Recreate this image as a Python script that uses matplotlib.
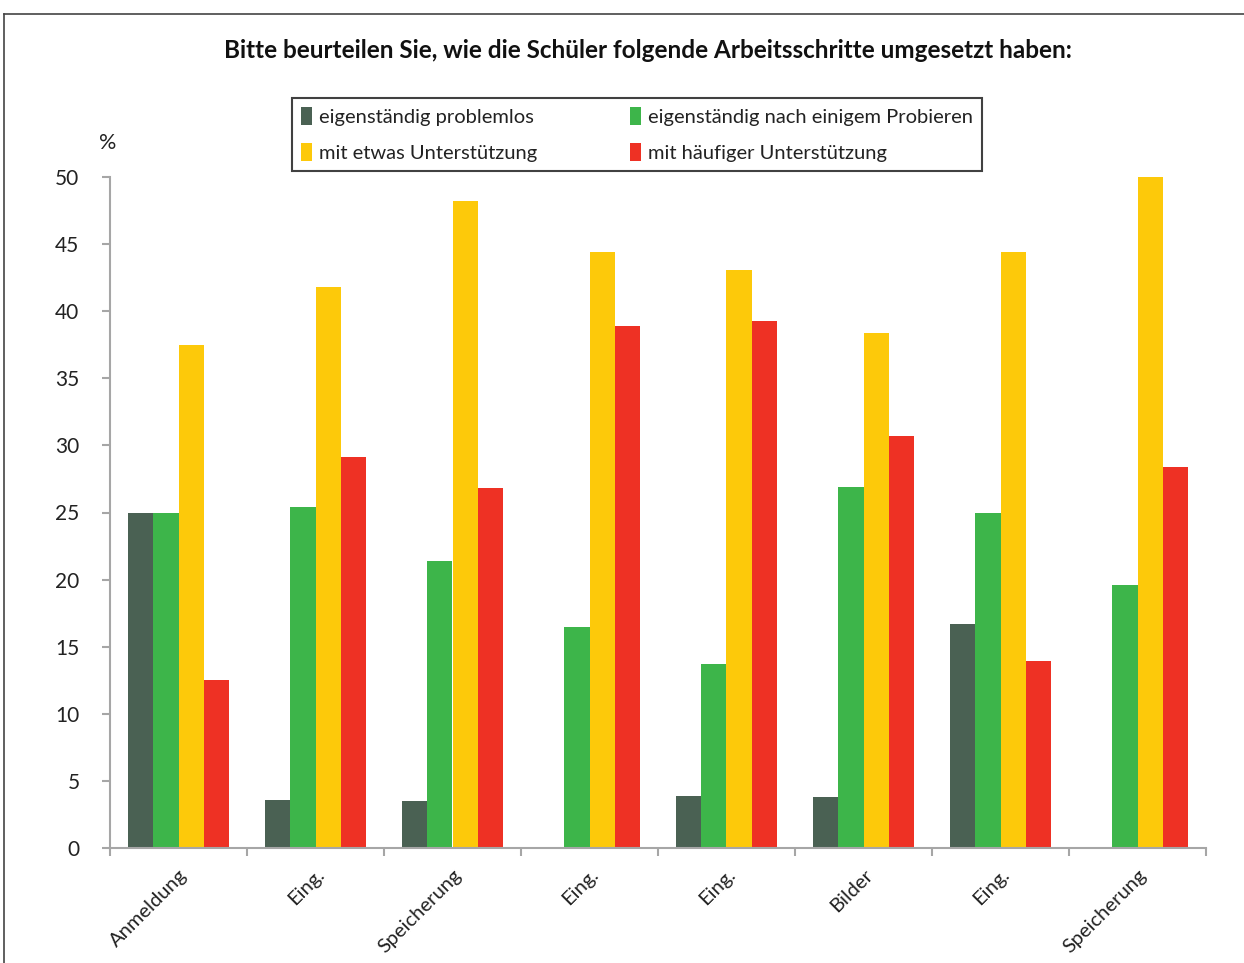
import matplotlib.pyplot as plt
import numpy as np
from matplotlib.lines import Line2D
from matplotlib.patches import Patch

plt.rcParams['font.family'] = ['Lato', 'DejaVu Sans']

categories = ['Anmeldung', 'Eing.', 'Speicherung', 'Eing.', 'Eing.', 'Bilder', 'Eing.', 'Speicherung']
series_names = ['eigenständig problemlos', 'eigenständig nach einigem Probieren',
                'mit etwas Unterstützung', 'mit häufiger Unterstützung']
problemlos = [25.0, 3.6, 3.5, 0.0, 3.9, 3.8, 16.7, 0.0]
probieren = [25.0, 25.4, 21.4, 16.5, 13.7, 26.9, 25.0, 19.6]
etwas_hilfe = [37.5, 41.8, 48.2, 44.4, 43.1, 38.4, 44.4, 50.0]
haeufig_hilfe = [12.5, 29.1, 26.8, 38.9, 39.3, 30.7, 13.9, 28.4]
colors = ['#4a6153', '#3db54a', '#fdc90a', '#ee3124']

series = [problemlos, probieren, etwas_hilfe, haeufig_hilfe]

fig = plt.figure(figsize=(12.44, 9.63), dpi=100)
ax = fig.add_axes([110 / 1244, 1 - 848 / 963, 1096 / 1244, 671 / 963])

x = np.arange(len(categories))
w = 0.73 / 4
for i, (vals, c) in enumerate(zip(series, colors)):
    ax.bar(x + (i - 1.5) * w, vals, width=w, color=c, edgecolor='none')

ax.set_xlim(-0.5, len(categories) - 0.5)
ax.set_ylim(0, 50)
ax.set_yticks(range(0, 51, 5))
ax.set_xticks(np.arange(-0.5, len(categories), 1.0))
ax.set_xticklabels([])
ax.set_xticks(x, minor=True)
ax.set_xticklabels(categories, minor=True, rotation=45, ha='right', va='top',
                   rotation_mode='anchor', fontsize=14.5, color='#222222')
ax.tick_params(axis='x', which='minor', length=0, pad=13)
ax.tick_params(axis='x', which='major', length=6, width=1.5, color='#a6a6a6')
ax.tick_params(axis='y', length=6, width=1.5, color='#a6a6a6', labelsize=15,
               labelcolor='#222222', pad=16)
for s in ['top', 'right']:
    ax.spines[s].set_visible(False)
for s in ['left', 'bottom']:
    ax.spines[s].set_color('#a6a6a6')
    ax.spines[s].set_linewidth(1.5)

fig.text(108 / 1244, 1 - 143 / 963, '%', fontsize=15.5, color='#222222', ha='center', va='center')
fig.text(648 / 1244, 1 - 50 / 963, 'Bitte beurteilen Sie, wie die Schüler folgende Arbeitsschritte umgesetzt haben:',
         fontsize=17.5, fontweight='bold', color='#111111', ha='center', va='center')

handles = [Patch(facecolor=c, edgecolor='none') for c in colors]
order = [0, 2, 1, 3]
leg = fig.legend([handles[i] for i in order], [series_names[i] for i in order],
                 ncol=2, loc='upper left', bbox_to_anchor=(292 / 1244, 1 - 98 / 963),
                 borderaxespad=0, fontsize=14.5, frameon=True, fancybox=False,
                 handlelength=0.55, handleheight=1.0, handletextpad=0.35,
                 columnspacing=4.6, labelspacing=0.85, borderpad=0.45,
                 labelcolor='#222222')
leg.get_frame().set_edgecolor('#111111')
leg.get_frame().set_linewidth(1.5)

# outer frame (top and left edge)
fig.add_artist(Line2D([4 / 1244, 1], [1 - 14 / 963, 1 - 14 / 963], color='#444444', lw=1.2))
fig.add_artist(Line2D([4 / 1244, 4 / 1244], [0, 1 - 14 / 963], color='#444444', lw=1.2))

fig.savefig('out.png', dpi=100)
